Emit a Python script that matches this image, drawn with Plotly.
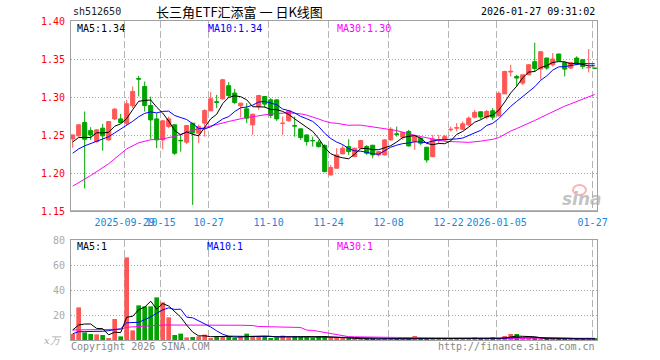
import numpy as np
import plotly.graph_objects as go

# ---------------- data ----------------
tick_idx = [9, 15, 23, 33, 43, 53, 63, 71, 87]
tick_labels = ["2025-09-29", "10-15", "10-27", "11-10", "11-24",
               "12-08", "12-22", "2026-01-05", "01-27"]

open_ = [1.2451, 1.2491, 1.2666, 1.2560, 1.2416, 1.2592, 1.2438, 1.2714, 1.2714, 1.2658,
         1.2886, 1.3245, 1.3140, 1.2890, 1.2714, 1.2438, 1.2613, 1.2636, 1.2432, 1.2408,
         1.2658, 1.2526, 1.2658, 1.2820, 1.2940, 1.2978, 1.3149, 1.3053, 1.2886, 1.2846,
         1.2636, 1.2876, 1.3008, 1.2964, 1.2964, 1.2655, 1.2688, 1.2626, 1.2583, 1.2504,
         1.2430, 1.2408, 1.2363, 1.1978, 1.2066, 1.2254, 1.2350, 1.2218, 1.2329, 1.2350,
         1.2368, 1.2241, 1.2241, 1.2438, 1.2518, 1.2474, 1.2548, 1.2416, 1.2460, 1.2342,
         1.2218, 1.2435, 1.2438, 1.2570, 1.2592, 1.2579, 1.2636, 1.2737, 1.2807, 1.2737,
         1.2820, 1.2754, 1.3043, 1.3330, 1.3271, 1.3184, 1.3293, 1.3465, 1.3370, 1.3513,
         1.3425, 1.3566, 1.3455, 1.3382, 1.3513, 1.3491, 1.3385, 1.3382]
high = [1.2504, 1.2640, 1.2811, 1.2605, 1.2575, 1.2649, 1.2685, 1.2855, 1.2780, 1.2964,
        1.3140, 1.3280, 1.3205, 1.3008, 1.2789, 1.2700, 1.2745, 1.2640, 1.2504, 1.2630,
        1.2660, 1.2640, 1.2840, 1.3066, 1.3030, 1.3241, 1.3197, 1.3109, 1.2921, 1.2921,
        1.2776, 1.3030, 1.3010, 1.2987, 1.2964, 1.2745, 1.2833, 1.2745, 1.2583, 1.2504,
        1.2481, 1.2438, 1.2382, 1.2109, 1.2329, 1.2372, 1.2447, 1.2335, 1.2438, 1.2370,
        1.2372, 1.2290, 1.2450, 1.2605, 1.2613, 1.2540, 1.2570, 1.2500, 1.2470, 1.2342,
        1.2504, 1.2504, 1.2504, 1.2613, 1.2658, 1.2679, 1.2745, 1.2833, 1.2810, 1.2833,
        1.2855, 1.3074, 1.3346, 1.3425, 1.3293, 1.3293, 1.3435, 1.3715, 1.3605, 1.3520,
        1.3579, 1.3570, 1.3460, 1.3460, 1.3536, 1.3500, 1.3632, 1.3382]
low = [1.2337, 1.2480, 1.1800, 1.2438, 1.2400, 1.2297, 1.2430, 1.2700, 1.2658, 1.2632,
       1.2855, 1.3008, 1.2811, 1.2450, 1.2329, 1.2316, 1.2592, 1.2241, 1.2284, 1.2382,
       1.1583, 1.2395, 1.2481, 1.2815, 1.2855, 1.2965, 1.2995, 1.2908, 1.2732, 1.2658,
       1.2504, 1.2833, 1.2863, 1.2724, 1.2688, 1.2504, 1.2679, 1.2481, 1.2438, 1.2363,
       1.2350, 1.2337, 1.2013, 1.1969, 1.2066, 1.2254, 1.2241, 1.2218, 1.2329, 1.2241,
       1.2197, 1.2218, 1.2230, 1.2430, 1.2481, 1.2438, 1.2350, 1.2307, 1.2372, 1.2139,
       1.2210, 1.2395, 1.2425, 1.2548, 1.2548, 1.2570, 1.2622, 1.2720, 1.2711, 1.2711,
       1.2701, 1.2745, 1.3043, 1.3271, 1.3140, 1.3160, 1.3290, 1.3330, 1.3228, 1.3359,
       1.3403, 1.3470, 1.3271, 1.3370, 1.3425, 1.3368, 1.3324, 1.3378]
close = [1.2504, 1.2636, 1.2447, 1.2504, 1.2570, 1.2491, 1.2679, 1.2842, 1.2666, 1.2912,
         1.3074, 1.3235, 1.2890, 1.2701, 1.2438, 1.2688, 1.2714, 1.2263, 1.2425, 1.2626,
         1.2530, 1.2613, 1.2824, 1.2978, 1.2930, 1.3228, 1.3021, 1.2929, 1.2921, 1.2724,
         1.2776, 1.3021, 1.2908, 1.2758, 1.2714, 1.2660, 1.2820, 1.2618, 1.2468, 1.2416,
         1.2425, 1.2350, 1.2021, 1.2074, 1.2241, 1.2329, 1.2284, 1.2329, 1.2429, 1.2263,
         1.2241, 1.2284, 1.2438, 1.2579, 1.2510, 1.2535, 1.2359, 1.2495, 1.2395, 1.2175,
         1.2450, 1.2440, 1.2481, 1.2579, 1.2600, 1.2649, 1.2724, 1.2800, 1.2740, 1.2811,
         1.2737, 1.3050, 1.3337, 1.3340, 1.3250, 1.3293, 1.3425, 1.3376, 1.3596, 1.3382,
         1.3500, 1.3478, 1.3368, 1.3455, 1.3434, 1.3403, 1.3390, 1.3378]
volume = [4.8, 26.1, 6.1, 4.8, 4.5, 4.0, 1.3, 16.8, 2.9, 66.1,
          7.7, 27.7, 26.9, 26.9, 34.1, 30.1, 18.1, 4.0, 5.1, 2.1,
          2.4, 2.9, 4.3, 1.6, 2.7, 2.7, 3.2, 1.3, 2.7, 5.1,
          2.7, 2.7, 2.7, 1.6, 2.1, 3.5, 2.1, 2.7, 2.7, 2.7,
          1.9, 3.2, 3.2, 2.1, 1.0, 1.2, 0.9, 1.0, 0.8, 1.0,
          0.9, 0.8, 1.0, 1.2, 0.9, 1.0, 0.8, 3.2, 0.9, 1.0,
          1.1, 0.8, 0.9, 1.0, 0.9, 1.0, 1.0, 2.1, 0.9, 1.0,
          2.1, 1.0, 3.2, 4.8, 4.8, 1.0, 1.1, 1.2, 1.0, 0.9,
          1.0, 0.9, 1.0, 0.9, 1.0, 0.8, 1.0, 0.9]

# moving-average values before the averaging window fills
ma5_lead = [1.241, 1.247, 1.247, 1.247]
ma10_lead = [1.2263, 1.2320, 1.2360, 1.2395, 1.2420, 1.2450, 1.2480, 1.2530, 1.2580]
ma30_lead_idx = [0, 3, 6, 9, 11, 13, 15, 17, 20, 22, 26, 28]
ma30_lead_val = [1.1830, 1.1970, 1.2125, 1.2320, 1.2400, 1.2440, 1.2450, 1.2485,
                 1.2565, 1.2600, 1.2680, 1.2720]
vma5_lead = [8.0, 12.0, 12.8, 12.8]
vma10_lead = [5.0, 6.7, 6.7, 6.7, 6.8, 7.0, 7.5, 8.5, 9.0]
vma30_lead_idx = [0, 6, 8, 9, 13, 15, 28]
vma30_lead_val = [8.0, 8.0, 8.6, 10.2, 11.0, 12.0, 11.8]

price_ticks = [1.15, 1.20, 1.25, 1.30, 1.35, 1.40]
vol_ticks = [20, 40, 60, 80]

# ---------------- helpers ----------------
N = len(close)
idx = np.arange(N)
o = np.array(open_); c = np.array(close); h = np.array(high); l = np.array(low)
v = np.array(volume)


def rolling(arr, n):
    return [float(np.mean(arr[i - n + 1:i + 1])) for i in range(n - 1, len(arr))]


ma5_x = list(range(N)); ma5_y = ma5_lead + rolling(c, 5)
ma10_x = list(range(N)); ma10_y = ma10_lead + rolling(c, 10)
ma30_x = ma30_lead_idx + list(range(29, N)); ma30_y = ma30_lead_val + rolling(c, 30)
vma5_y = vma5_lead + rolling(v, 5)
vma10_y = vma10_lead + rolling(v, 10)
vma30_x = vma30_lead_idx + list(range(29, N)); vma30_y = vma30_lead_val + rolling(v, 30)

RED = "#ff5656"
GREEN = "#00a300"
up = c >= o
colors = [RED if u else GREEN for u in up]

L, R, T, B = 71, 597, 21, 340


def px(x):
    return (x - L) / (R - L)


def py(y):
    return (B - y) / (B - T)


MONO = "DejaVu Sans Mono"

fig = go.Figure()

# wicks
for is_up, col in [(True, RED), (False, GREEN)]:
    wx, wy = [], []
    for i in range(N):
        if bool(up[i]) == is_up:
            wx += [i, i, None]
            wy += [l[i], h[i], None]
    fig.add_trace(go.Scatter(x=wx, y=wy, mode="lines", line=dict(color=col, width=1),
                             hoverinfo="skip", xaxis="x", yaxis="y"))

# bodies
fig.add_trace(go.Bar(x=idx, base=np.minimum(o, c), y=np.abs(c - o), width=0.68,
                     marker=dict(color=colors, line=dict(color=colors, width=1)),
                     hoverinfo="skip", xaxis="x", yaxis="y"))

# price MAs
fig.add_trace(go.Scatter(x=ma30_x, y=ma30_y, mode="lines", line=dict(color="#ff00ff", width=1),
                         hoverinfo="skip", xaxis="x", yaxis="y"))
fig.add_trace(go.Scatter(x=ma10_x, y=ma10_y, mode="lines", line=dict(color="#0000ff", width=1),
                         hoverinfo="skip", xaxis="x", yaxis="y"))
fig.add_trace(go.Scatter(x=ma5_x, y=ma5_y, mode="lines", line=dict(color="#000000", width=1),
                         hoverinfo="skip", xaxis="x", yaxis="y"))

# volume
fig.add_trace(go.Bar(x=idx, y=v, width=0.78, marker=dict(color=colors, line=dict(width=0)),
                     hoverinfo="skip", xaxis="x2", yaxis="y2"))
fig.add_trace(go.Scatter(x=vma30_x, y=vma30_y, mode="lines", line=dict(color="#ff00ff", width=1),
                         hoverinfo="skip", xaxis="x2", yaxis="y2"))
fig.add_trace(go.Scatter(x=list(range(N)), y=vma10_y, mode="lines", line=dict(color="#0000ff", width=1),
                         hoverinfo="skip", xaxis="x2", yaxis="y2"))
fig.add_trace(go.Scatter(x=list(range(N)), y=vma5_y, mode="lines", line=dict(color="#000000", width=1),
                         hoverinfo="skip", xaxis="x2", yaxis="y2"))

tickpos = [t - 0.35 for t in tick_idx]
xcommon = dict(range=[-0.28, 87.38], tickmode="array", tickvals=tickpos, ticktext=tick_labels,
               tickangle=0, showgrid=True, gridcolor="#b4b4b4", griddash="7px,3px", gridwidth=1,
               showline=True, linecolor="#a0a0a0", linewidth=1, mirror=True, ticks="",
               zeroline=False, fixedrange=True)

fig.update_layout(
    width=660, height=360, margin=dict(l=L, r=660 - R, t=T, b=360 - B, pad=0),
    paper_bgcolor="white", plot_bgcolor="white", showlegend=False, barmode="overlay",
    xaxis=dict(xcommon, anchor="y", domain=[0, 1],
               tickfont=dict(family=MONO, size=10, color="#1a88d6"), ticklabelstandoff=2),
    yaxis=dict(domain=[py(211.3), 1], range=[1.15, 1.40], tickmode="array", tickvals=price_ticks,
               ticktext=["%.2f" % t for t in price_ticks],
               tickfont=dict(family=MONO, size=10, color="#ff0000"),
               showgrid=True, gridcolor="#a8a8a8", griddash="1px,2px", gridwidth=1,
               showline=True, linecolor="#a0a0a0", linewidth=1, mirror=True, ticks="",
               zeroline=False, fixedrange=True, ticklabelstandoff=3),
    xaxis2=dict(xcommon, anchor="y2", domain=[0, 1], matches="x", showticklabels=False),
    yaxis2=dict(domain=[0, py(240)], range=[0, 80], tickmode="array", tickvals=vol_ticks,
                ticktext=[str(t) for t in vol_ticks],
                tickfont=dict(family=MONO, size=10, color="#aaaaaa"),
                showgrid=True, gridcolor="#a8a8a8", griddash="1px,2px", gridwidth=1,
                showline=True, linecolor="#a0a0a0", linewidth=1, mirror=True, ticks="",
                zeroline=False, fixedrange=True, ticklabelstandoff=3),
)

# thicker bottom edge of the price panel, as in the reference
fig.add_shape(type="line", xref="x domain", yref="y", x0=0, x1=1, y0=1.15, y1=1.15,
              line=dict(color="#a0a0a0", width=2))


def ann(text, x, y, color="#000", size=10, xanchor="left", family=MONO, **kw):
    fig.add_annotation(text=text, x=px(x), y=py(y), xref="paper", yref="paper",
                       xanchor=xanchor, yanchor="middle", showarrow=False,
                       font=dict(family=family, size=size, color=color, **kw))


# header
ann("sh512650", 71, 12, color="#222")
ann("长三角ETF汇添富 一 日K线图", 239, 11, size=13, xanchor="center",
    family="Noto Sans CJK SC")
ann("2026-01-27 09:31:02", 597, 12, xanchor="right")

# MA labels
last = lambda a: a[-1]
ann("MA5:%.2f" % last(ma5_y), 75, 28, color="#000")
ann("MA10:%.2f" % last(ma10_y), 206, 28, color="#0000ff")
ann("MA30:%.2f" % last(ma30_y), 335, 28, color="#ff00ff")
ann("MA5:%d" % round(last(vma5_y)), 75, 247, color="#000")
ann("MA10:%d" % round(last(vma10_y)), 205, 247, color="#0000ff")
ann("MA30:%d" % round(last(vma30_y)), 335, 247, color="#ff00ff")

# footer
ann("x万", 64, 341, color="#aaaaaa", xanchor="right", family="DejaVu Serif", style="italic")
ann("Copyright 2026 SINA.COM", 69, 346, color="#888888")
ann("http://finance.sina.com.cn", 597, 346, color="#888888", xanchor="right")

# watermark
ann("sina", 582, 199, color="rgba(175,175,175,0.75)", size=17, xanchor="center",
    family="DejaVu Sans", weight="bold", style="italic")
fig.add_shape(type="circle", xref="paper", yref="paper", x0=px(573), x1=px(586),
              y0=py(195), y1=py(185), line=dict(color="rgba(240,120,120,0.55)", width=2))

fig.write_html("out.html")
